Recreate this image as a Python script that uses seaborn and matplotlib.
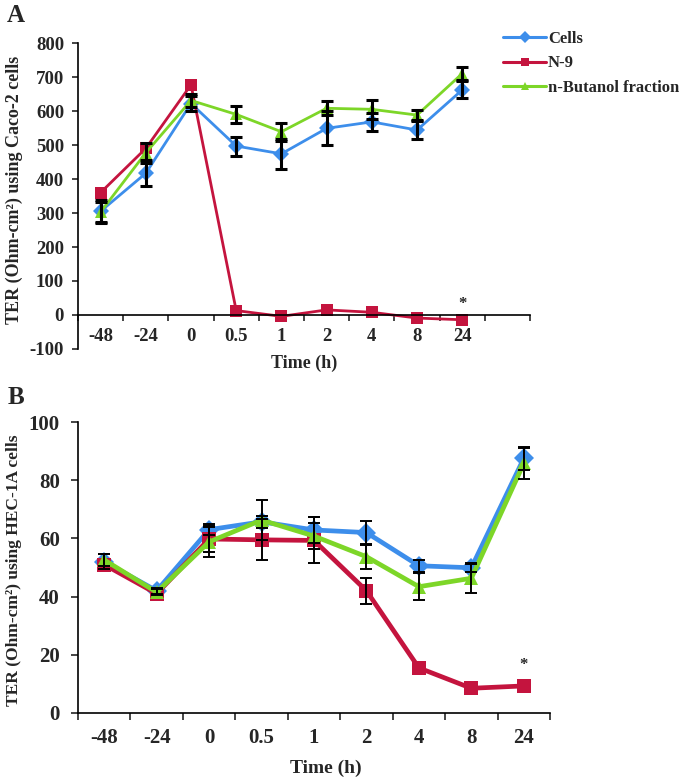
import numpy as np
import pandas as pd
import matplotlib
matplotlib.use("Agg")
import matplotlib.pyplot as plt
import seaborn as sns

# ---------------- data ----------------
time_labels = ["-48", "-24", "0", "0.5", "1", "2", "4", "8", "24"]
series_names = ["Cells", "N-9", "n-Butanol fraction"]

cells_a = [305, 417, 622, 497, 474, 549, 568, 544, 662]
n9_a = [360, 490, 677, 13, -4, 15, 8, -9, -14]
but_a = [303, 477, 631, 590, 539, 608, 605, 588, 710]
cells_a_err = [33, 38, 22, 28, 44, 50, 27, 27, 25]
n9_a_err = [np.nan] * 9
but_a_err = [30, 30, 20, 24, 26, 20, 28, 15, 20]

cells_b = [52.0, 42.0, 63.0, 65.7, 62.9, 62.0, 50.6, 49.9, 87.5]
n9_b = [51.0, 41.0, 59.8, 59.5, 59.3, 42.0, 15.5, 8.5, 9.3]
but_b = [52.6, 41.5, 58.8, 66.3, 60.8, 53.7, 43.4, 46.3, 85.8]
cells_b_err = [2.5, 1.0, 2.0, 2.0, 4.6, 4.0, 2.0, 1.6, 4.0]
n9_b_err = [np.nan, np.nan, 4.4, 7.0, 7.9, 4.4, np.nan, np.nan, np.nan]
but_b_err = [2.0, 1.0, 5.1, 7.0, 4.5, 4.2, 4.6, 5.0, 5.4]

star_a = 22
star_b = 15

# ---------------- style ----------------
sns.set_style("white")
plt.rcParams["font.family"] = ["Liberation Serif", "DejaVu Serif"]
plt.rcParams["font.weight"] = "bold"
plt.rcParams["axes.unicode_minus"] = False

colors = {"Cells": "#3D8EEB", "N-9": "#C4143E", "n-Butanol fraction": "#7DD628"}
markers = {"Cells": "D", "N-9": "s", "n-Butanol fraction": "^"}

fig = plt.figure(figsize=(6.85, 7.78), dpi=100)
axA = fig.add_axes([78/685, 1-349/778, (530-78)/685, (349-43)/778])
axB = fig.add_axes([78/685, 1-713/778, (550-78)/685, (713-422)/778])


def long_df(vals):
    rows = []
    for name, v in zip(series_names, vals):
        for i, y in enumerate(v):
            rows.append({"pos": i, "val": y, "series": name})
    return pd.DataFrame(rows)


dfA = long_df([cells_a, n9_a, but_a])
dfB = long_df([cells_b, n9_b, but_b])

sns.lineplot(data=dfA, x="pos", y="val", hue="series", style="series",
             hue_order=series_names, style_order=series_names,
             palette=colors, markers=markers, dashes=False,
             linewidth=2.0, markersize=8.5, markeredgewidth=0, ax=axA)
sns.lineplot(data=dfB, x="pos", y="val", hue="series", style="series",
             hue_order=series_names, style_order=series_names,
             palette=colors, markers=markers, dashes=False,
             linewidth=3.4, markersize=10, markeredgewidth=0, ax=axB,
             legend=False)

xs = np.arange(len(time_labels))
for v, e in [(cells_a, cells_a_err), (n9_a, n9_a_err), (but_a, but_a_err)]:
    axA.errorbar(xs, v, yerr=e, fmt="none", ecolor="black", elinewidth=2.2,
                 capsize=4, capthick=2.2, zorder=4)
for v, e in [(cells_b, cells_b_err), (n9_b, n9_b_err), (but_b, but_b_err)]:
    axB.errorbar(xs, v, yerr=e, fmt="none", ecolor="black", elinewidth=1.4,
                 capsize=4.5, capthick=1.4, zorder=4)

# legend
handles, labels = axA.get_legend_handles_labels()
axA.get_legend().remove()
for h in handles:
    h.set_markersize(6)
    h.set_linewidth(2.2)
fig.legend(handles, labels, loc="upper left",
           bbox_to_anchor=(503/685, 1-31/778), frameon=False,
           prop={"family": "Liberation Serif", "weight": "bold", "size": 12},
           handlelength=2.6, handletextpad=0.1, labelspacing=0.5,
           borderpad=0, borderaxespad=0)

# ---------------- axes A ----------------
axA.set_xlim(-0.5, 9.5)
axA.set_ylim(-100, 800)
axA.set_yticks(np.arange(-100, 801, 100))
axA.spines["bottom"].set_position(("data", 0))
for s in ["top", "right"]:
    axA.spines[s].set_visible(False)
axA.set_xticks(np.arange(-0.5, 9.6, 1))
axA.set_xticklabels([])
axA.set_xticks(xs, labels=time_labels, minor=True)
axA.tick_params(axis="x", which="major", direction="out", length=4, width=1.2, bottom=True)
axA.tick_params(axis="x", which="minor", length=0, pad=9.5, labelsize=13.5)
axA.tick_params(axis="y", direction="out", length=4, width=1.2, left=True, labelsize=13.5, pad=6)
axA.set_xlabel("")
axA.set_ylabel("")
axA.text(0.5, -14/306, "Time (h)", transform=axA.transAxes, ha="center", va="center",
         fontsize=13, fontweight="bold")
fig.text(14/685, 1-190/778, "TER (Ohm-cm²) using Caco-2 cells", rotation=90,
         ha="center", va="center", fontsize=13, fontweight="bold")
axA.text(8, star_a, "*", ha="center", va="baseline", fontsize=12, fontweight="bold")

# ---------------- axes B ----------------
axB.set_xlim(-0.5, 8.5)
axB.set_ylim(0, 100)
axB.set_yticks(np.arange(0, 101, 20))
for s in ["top", "right"]:
    axB.spines[s].set_visible(False)
axB.set_xticks(np.arange(-0.5, 8.6, 1))
axB.set_xticklabels([])
axB.set_xticks(xs, labels=time_labels, minor=True)
axB.tick_params(axis="x", which="major", direction="out", length=5, width=1.2, bottom=True)
axB.tick_params(axis="x", which="minor", length=0, pad=10.5, labelsize=15)
axB.tick_params(axis="y", direction="out", length=5, width=1.2, left=True, labelsize=15, pad=8)
axB.set_xlabel("")
axB.set_ylabel("")
axB.text((326-78)/472, -(768-713)/291, "Time (h)", transform=axB.transAxes,
         ha="center", va="center", fontsize=14, fontweight="bold")
fig.text(14/685, 1-570/778, "TER (Ohm-cm²) using HEC-1A cells", rotation=90,
         ha="center", va="center", fontsize=12.5, fontweight="bold")
axB.text(8, star_b, "*", ha="center", va="baseline", fontsize=12, fontweight="bold")

for ax in (axA, axB):
    for s in ["left", "bottom"]:
        ax.spines[s].set_color("black")
        ax.spines[s].set_linewidth(1.2)

fig.text(16/685, 1-16/778, "A", ha="center", va="center", fontsize=18, fontweight="bold")
fig.text(16/685, 1-398/778, "B", ha="center", va="center", fontsize=18, fontweight="bold")

fig.savefig("out.png", dpi=100)
